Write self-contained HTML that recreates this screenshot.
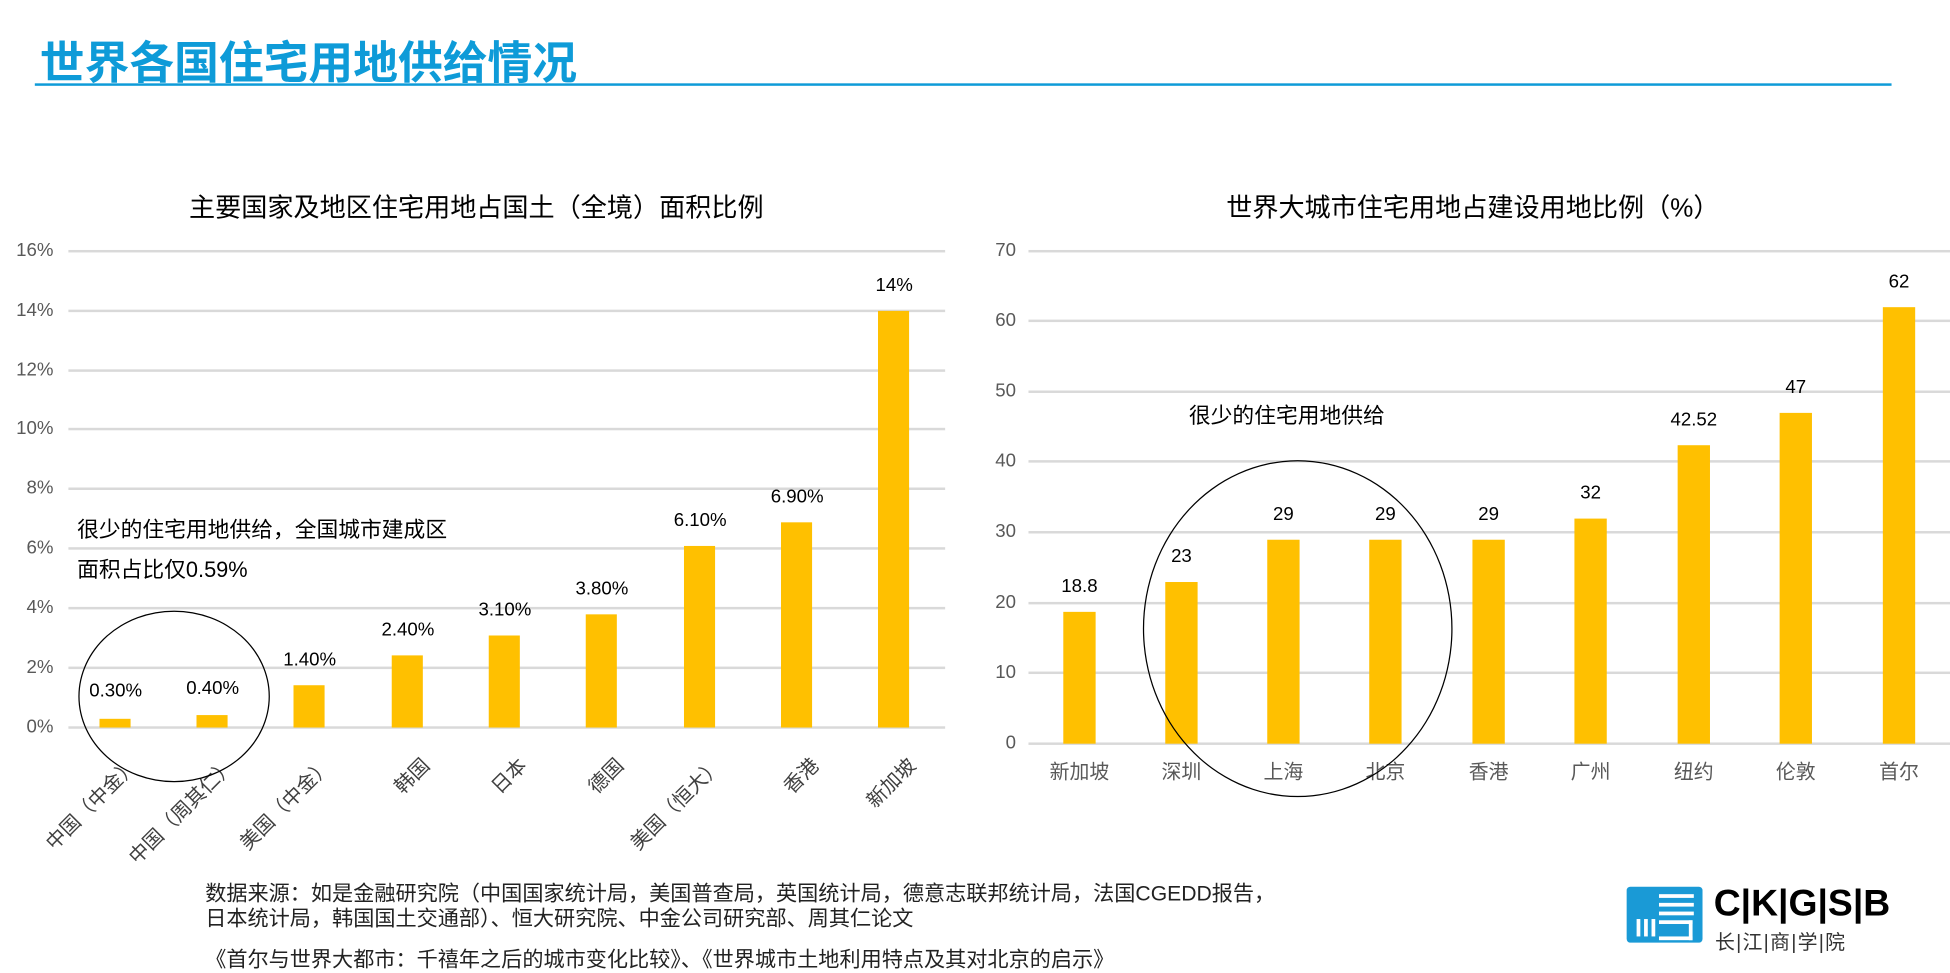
<!DOCTYPE html>
<html><head><meta charset="utf-8"><style>
html,body{margin:0;padding:0;background:#fff;width:1950px;height:972px;overflow:hidden}
#s{position:absolute;left:0;top:0;width:1568px;height:782px;transform:scale(1.24362);transform-origin:0 0;font-family:"Liberation Sans","Noto Sans CJK SC",sans-serif;color:#000}
.a{position:absolute;white-space:nowrap}
.g{position:absolute;height:2px;background:#d9d9d9}
.b{position:absolute;background:#ffc000}
.yl{position:absolute;width:40px;text-align:right;font-size:15px;color:#595959}
.v{position:absolute;width:80px;text-align:center;font-size:15px}
.c{position:absolute;font-size:16px;color:#404040;transform-origin:100% 0;transform:rotate(-45deg);text-align:right;width:130px}
.rc{position:absolute;width:80px;text-align:center;font-size:16px;color:#595959;top:607px}
</style></head><body><div id="s">
<div class="a" style="left:32px;top:22px;font-size:36px;font-weight:bold;color:#0e9bd8">世界各国住宅用地供给情况</div>
<div style="position:absolute;left:28px;top:67px;width:1493px;height:2px;background:#0e9bd8"></div>

<div class="a" style="left:152px;top:151px;font-size:21px">主要国家及地区住宅用地占国土（全境）面积比例</div>
<div class="g" style="left:55px;top:201px;width:705px"></div>
<div class="g" style="left:55px;top:249px;width:705px"></div>
<div class="g" style="left:55px;top:297px;width:705px"></div>
<div class="g" style="left:55px;top:344px;width:705px"></div>
<div class="g" style="left:55px;top:392px;width:705px"></div>
<div class="g" style="left:55px;top:440px;width:705px"></div>
<div class="g" style="left:55px;top:488px;width:705px"></div>
<div class="g" style="left:55px;top:536px;width:705px"></div>
<div class="g" style="left:55px;top:584px;width:705px"></div>
<div class="yl" style="left:3px;top:193px">16%</div>
<div class="yl" style="left:3px;top:241px">14%</div>
<div class="yl" style="left:3px;top:289px">12%</div>
<div class="yl" style="left:3px;top:336px">10%</div>
<div class="yl" style="left:3px;top:384px">8%</div>
<div class="yl" style="left:3px;top:432px">6%</div>
<div class="yl" style="left:3px;top:480px">4%</div>
<div class="yl" style="left:3px;top:528px">2%</div>
<div class="yl" style="left:3px;top:576px">0%</div>

<div class="b" style="left:80px;top:578px;width:25px;height:7px"></div>
<div class="b" style="left:158px;top:575px;width:25px;height:10px"></div>
<div class="b" style="left:236px;top:551px;width:25px;height:34px"></div>
<div class="b" style="left:315px;top:527px;width:25px;height:58px"></div>
<div class="b" style="left:393px;top:511px;width:25px;height:74px"></div>
<div class="b" style="left:471px;top:494px;width:25px;height:91px"></div>
<div class="b" style="left:550px;top:439px;width:25px;height:146px"></div>
<div class="b" style="left:628px;top:420px;width:25px;height:165px"></div>
<div class="b" style="left:706px;top:250px;width:25px;height:335px"></div>

<div class="v" style="left:53px;top:547px">0.30%</div>
<div class="v" style="left:131px;top:545px">0.40%</div>
<div class="v" style="left:209px;top:522px">1.40%</div>
<div class="v" style="left:288px;top:498px">2.40%</div>
<div class="v" style="left:366px;top:482px">3.10%</div>
<div class="v" style="left:444px;top:465px">3.80%</div>
<div class="v" style="left:523px;top:410px">6.10%</div>
<div class="v" style="left:601px;top:391px">6.90%</div>
<div class="v" style="left:679px;top:221px">14%</div>

<div class="c" style="left:-32px;top:603px">中国（中金）</div>
<div class="c" style="left:46px;top:603px">中国（周其仁）</div>
<div class="c" style="left:124px;top:603px">美国（中金）</div>
<div class="c" style="left:203px;top:603px">韩国</div>
<div class="c" style="left:281px;top:603px">日本</div>
<div class="c" style="left:359px;top:603px">德国</div>
<div class="c" style="left:438px;top:603px">美国（恒大）</div>
<div class="c" style="left:516px;top:603px">香港</div>
<div class="c" style="left:594px;top:603px">新加坡</div>

<div class="a" style="left:62px;top:413px;font-size:17.5px">很少的住宅用地供给，全国城市建成区</div>
<div class="a" style="left:62px;top:445px;font-size:17.5px">面积占比仅0.59%</div>
<div style="position:absolute;left:63px;top:491px;width:152px;height:136px;border:1.5px solid #000;border-radius:50%"></div>

<div class="a" style="left:986px;top:151px;font-size:21px">世界大城市住宅用地占建设用地比例（%）</div>
<div class="g" style="left:827px;top:201px;width:741px"></div>
<div class="g" style="left:827px;top:257px;width:741px"></div>
<div class="g" style="left:827px;top:314px;width:741px"></div>
<div class="g" style="left:827px;top:370px;width:741px"></div>
<div class="g" style="left:827px;top:427px;width:741px"></div>
<div class="g" style="left:827px;top:484px;width:741px"></div>
<div class="g" style="left:827px;top:540px;width:741px"></div>
<div class="g" style="left:827px;top:597px;width:741px"></div>
<div class="yl" style="left:777px;top:193px">70</div>
<div class="yl" style="left:777px;top:249px">60</div>
<div class="yl" style="left:777px;top:306px">50</div>
<div class="yl" style="left:777px;top:362px">40</div>
<div class="yl" style="left:777px;top:419px">30</div>
<div class="yl" style="left:777px;top:476px">20</div>
<div class="yl" style="left:777px;top:532px">10</div>
<div class="yl" style="left:777px;top:589px">0</div>

<div class="b" style="left:855px;top:492px;width:26px;height:106px"></div>
<div class="b" style="left:937px;top:468px;width:26px;height:130px"></div>
<div class="b" style="left:1019px;top:434px;width:26px;height:164px"></div>
<div class="b" style="left:1101px;top:434px;width:26px;height:164px"></div>
<div class="b" style="left:1184px;top:434px;width:26px;height:164px"></div>
<div class="b" style="left:1266px;top:417px;width:26px;height:181px"></div>
<div class="b" style="left:1349px;top:358px;width:26px;height:240px"></div>
<div class="b" style="left:1431px;top:332px;width:26px;height:266px"></div>
<div class="b" style="left:1514px;top:247px;width:26px;height:351px"></div>

<div class="v" style="left:828px;top:463px">18.8</div>
<div class="v" style="left:910px;top:439px">23</div>
<div class="v" style="left:992px;top:405px">29</div>
<div class="v" style="left:1074px;top:405px">29</div>
<div class="v" style="left:1157px;top:405px">29</div>
<div class="v" style="left:1239px;top:388px">32</div>
<div class="v" style="left:1322px;top:329px">42.52</div>
<div class="v" style="left:1404px;top:303px">47</div>
<div class="v" style="left:1487px;top:218px">62</div>

<div class="rc" style="left:828px">新加坡</div>
<div class="rc" style="left:910px">深圳</div>
<div class="rc" style="left:992px">上海</div>
<div class="rc" style="left:1074px">北京</div>
<div class="rc" style="left:1157px">香港</div>
<div class="rc" style="left:1239px">广州</div>
<div class="rc" style="left:1322px">纽约</div>
<div class="rc" style="left:1404px">伦敦</div>
<div class="rc" style="left:1487px">首尔</div>

<div class="a" style="left:956px;top:321px;font-size:17.5px">很少的住宅用地供给</div>
<div style="position:absolute;left:919px;top:370px;width:247px;height:269px;border:1.5px solid #000;border-radius:50%"></div>

<div class="a" style="left:165px;top:704px;font-size:17px;color:#222">数据来源：如是金融研究院（中国国家统计局，美国普查局，英国统计局，德意志联邦统计局，法国CGEDD报告，</div>
<div class="a" style="left:165px;top:724px;font-size:17px;color:#222">日本统计局，韩国国土交通部）、恒大研究院、中金公司研究部、周其仁论文</div>
<div class="a" style="left:165px;top:757px;font-size:17px;color:#222">《首尔与世界大都市：千禧年之后的城市变化比较》、《世界城市土地利用特点及其对北京的启示》</div>

<div style="position:absolute;left:1308px;top:713px;width:61px;height:45px;background:#1a9ad6;border-radius:3px;overflow:hidden">
<div style="position:absolute;left:26px;top:6px;width:28px;height:3px;background:#fff"></div>
<div style="position:absolute;left:26px;top:13px;width:28px;height:3px;background:#fff"></div>
<div style="position:absolute;left:26px;top:20px;width:28px;height:3px;background:#fff"></div>
<div style="position:absolute;left:8px;top:26px;width:3px;height:14px;background:#fff"></div>
<div style="position:absolute;left:14px;top:26px;width:3px;height:14px;background:#fff"></div>
<div style="position:absolute;left:20px;top:26px;width:3px;height:14px;background:#fff"></div>
<div style="position:absolute;left:26px;top:27px;width:24px;height:10px;border:3px solid #fff;border-left:none"></div>
</div>
<div class="a" style="left:1378px;top:710px;font-size:30px;font-weight:bold;letter-spacing:0px">C|K|G|S|B</div>
<div class="a" style="left:1379px;top:744px;font-size:16px;color:#333;letter-spacing:1px">长|江|商|学|院</div>
</div></body></html>
